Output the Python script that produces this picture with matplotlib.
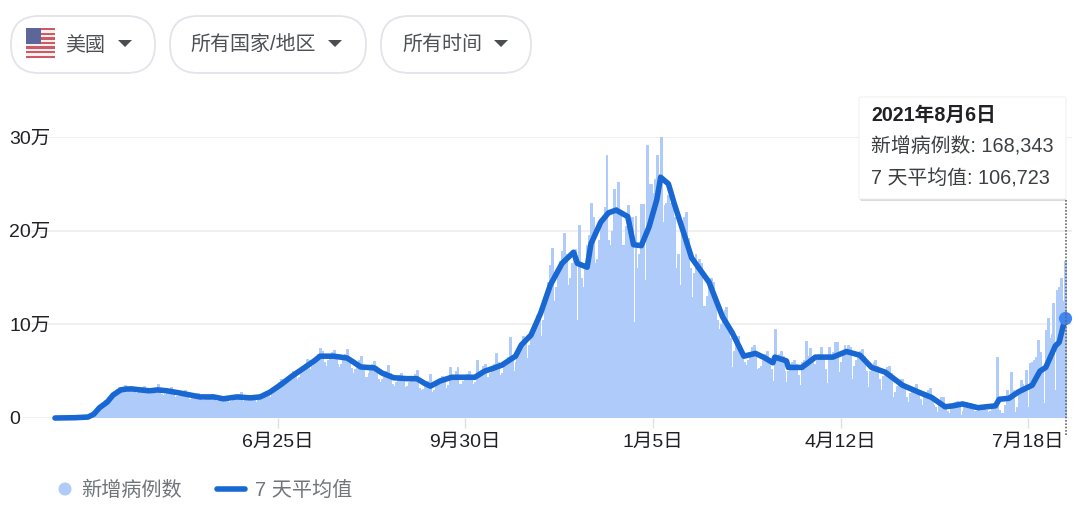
import matplotlib
matplotlib.use('Agg')
import matplotlib.pyplot as plt
from matplotlib.patches import FancyBboxPatch, Rectangle, Polygon, Circle
import numpy as np
import pandas as pd

plt.rcParams['font.family'] = ['Liberation Sans', 'Noto Sans CJK SC', 'DejaVu Sans']

start_date = '2020-03-02'

# new cases per day in thousands, one row per week (Mon..Sun)
daily_cases = [
    0, 0, 0, 0, 0, 0, 0,
    0, 0, 0, 0, 1, 1, 1,
    1, 1, 1, 1, 2, 2, 2,
    6, 8, 10, 13, 16, 19, 19,
    20, 22, 24, 27, 31, 33, 30,
    29, 35, 31, 33, 34, 33, 28,
    27, 29, 31, 33, 34, 30, 27,
    26, 27, 29, 31, 36, 33, 26,
    25, 26, 28, 30, 33, 28, 22,
    23, 24, 26, 28, 30, 26, 20,
    20, 21, 23, 25, 27, 24, 19,
    19, 21, 23, 25, 26, 23, 18,
    18, 20, 21, 23, 24, 21, 17,
    18, 20, 22, 24, 26, 28, 18,
    19, 21, 22, 23, 25, 22, 17,
    20, 22, 24, 26, 29, 28, 22,
    26, 29, 32, 35, 38, 42, 35,
    36, 40, 44, 47, 50, 47, 42,
    44, 50, 54, 58, 63, 62, 52,
    55, 60, 64, 68, 75, 72, 60,
    56, 62, 66, 70, 73, 68, 58,
    54, 58, 63, 68, 74, 64, 53,
    48, 52, 56, 62, 66, 56, 44,
    44, 48, 53, 58, 61, 55, 42,
    38, 42, 46, 50, 57, 48, 36,
    34, 38, 42, 46, 48, 44, 33,
    34, 38, 42, 45, 47, 51, 32,
    30, 31, 34, 37, 40, 47, 28,
    30, 36, 38, 40, 45, 42, 32,
    35, 54, 43, 46, 50, 54, 36,
    36, 40, 44, 47, 50, 46, 36,
    38, 62, 47, 50, 56, 58, 40,
    44, 48, 52, 58, 69, 60, 46,
    48, 55, 60, 65, 86, 66, 50,
    60, 66, 72, 80, 88, 84, 64,
    78, 86, 94, 102, 110, 106, 88,
    105, 118, 130, 145, 163, 181, 125,
    140, 155, 168, 178, 198, 175, 142,
    150, 165, 175, 180, 105, 206, 150,
    140, 165, 185, 195, 230, 215, 165,
    170, 190, 205, 215, 225, 281, 190,
    185, 200, 245, 225, 252, 220, 185,
    185, 205, 227, 210, 215, 102, 216,
    160, 175, 229, 229, 147, 291, 250,
    250, 240, 255, 281, 260, 300, 209,
    227, 230, 238, 230, 227, 215, 160,
    175, 142, 205, 215, 220, 192, 160,
    129, 155, 175, 165, 170, 165, 120,
    120, 130, 142, 150, 145, 125, 105,
    95, 100, 108, 115, 118, 100, 85,
    54, 72, 82, 88, 78, 70, 60,
    57, 62, 70, 76, 78, 70, 52,
    53, 55, 62, 68, 72, 64, 52,
    40, 95, 66, 68, 72, 66, 50,
    38, 50, 58, 60, 62, 58, 46,
    35, 60, 62, 82, 66, 75, 60,
    46, 58, 62, 68, 76, 66, 52,
    37, 76, 66, 70, 81, 81, 49,
    60, 68, 78, 72, 78, 76, 42,
    55, 62, 68, 72, 74, 66, 50,
    33, 50, 56, 60, 62, 55, 42,
    30, 45, 50, 54, 55, 48, 22,
    28, 34, 38, 42, 42, 35, 22,
    17, 27, 31, 33, 36, 30, 20,
    14, 22, 26, 30, 32, 24, 14,
    12, 6, 18, 22, 22, 14, 7,
    5, 14, 16, 17, 18, 13, 3,
    8, 13, 17, 16, 16, 12, 7,
    7, 10, 12, 14, 14, 9, 6,
    8, 11, 12, 13, 65, 9, 5,
    5, 14, 30, 20, 49, 30, 6,
    12, 28, 41, 36, 34, 51, 12,
    59, 60, 62, 65, 83, 70, 50,
    16, 94, 107, 85, 90, 123, 30,
    137, 140, 150, 125, 168,
]

# 7 day average, read at these day numbers
avg_days = [0, 10, 17, 20, 23, 27, 30, 34, 37, 40, 44, 49, 53, 58, 65, 70, 75, 82, 87, 94,
            101, 106, 111, 117, 122, 128, 134, 137, 144, 151, 154, 158, 165, 169, 175, 182,
            187, 191, 194, 199, 205, 210, 217, 222, 225, 231, 235, 238, 241, 246, 251, 256,
            262, 268, 270, 275, 277, 282, 286, 290, 296, 299, 303, 307, 311, 313, 317, 320,
            325, 329, 338, 345, 350, 356, 362, 367, 371, 372, 378, 379, 386, 393, 402, 409,
            416, 422, 429, 438, 447, 453, 460, 464, 469, 477, 486, 488, 493, 498, 505, 509,
            512, 517, 519, 522]
avg_values = [0, 0.3, 1, 4, 11, 17, 24.5, 30, 31, 31, 30, 29, 30, 29, 26.5, 24.5, 22.5, 22.5, 20.5, 22.5,
              21.5, 22.5, 27.5, 36, 44, 52.5, 61, 66, 66, 64, 60, 54.5, 53.5, 48, 43, 42,
              42, 37, 34, 39.5, 43.5, 43.5, 43.5, 50, 52, 56.5, 62, 66, 78, 88.5, 112, 142,
              165, 177, 165, 161, 186, 209, 219, 222, 215, 185, 184, 204, 233, 257, 250, 229,
              197, 171, 145, 108, 91, 66, 69, 64, 59, 65, 61, 54, 54, 65, 65, 71,
              67, 54, 49, 35, 27, 22, 12, 13, 15, 11, 13, 20, 21, 28, 35, 50,
              54, 77, 81, 106.7]

y_ticks = [0, 100, 200, 300]
y_labels = ['0', '10万', '20万', '30万']
tick_dates = ['2020-06-25', '2020-09-30', '2021-01-05', '2021-04-12', '2021-07-18']
x_labels = ['6月25日', '9月30日', '1月5日', '4月12日', '7月18日']

W, H = 1080, 509
BAR = '#aecbfa'
LINE = '#1967d2'
TXT = '#4d5156'

fig = plt.figure(figsize=(W / 100, H / 100), dpi=100)
ax = fig.add_axes([23 / W, 1 - 418 / H, (1072 - 23) / W, (418 - 137) / H])

days = np.arange(len(daily_cases))
ax.bar(days, daily_cases, width=1.0, color=BAR, linewidth=0.7, edgecolor=BAR, zorder=2)
ax.plot(avg_days, avg_values, color=LINE, lw=4, zorder=3, clip_on=False,
        solid_joinstyle='round', solid_capstyle='round')
ax.plot(avg_days[-1], avg_values[-1], 'o', color='#4285f4', ms=9.5, mew=0, zorder=4, clip_on=False)

ax.set_xlim((23 - 55) / 1.935, (1072 - 55) / 1.935)
ax.set_ylim(0, 300)
for s in ax.spines.values():
    s.set_visible(False)
ax.set_yticks(y_ticks)
ax.set_yticklabels(y_labels, fontsize=14, color='#202124', ha='left')
ax.tick_params(axis='y', length=0, pad=9.8)
ax.grid(axis='y', color='#ececec', lw=1.2, zorder=0)
ax.set_axisbelow(True)
tick_x = [(pd.Timestamp(d) - pd.Timestamp(start_date)).days for d in tick_dates]
ax.set_xticks(tick_x)
ax.set_xticklabels(x_labels, fontsize=14, color='#202124')
ax.tick_params(axis='x', length=7, width=1, color='#e0e0e0', pad=4.5)

# everything around the chart, in pixel coordinates
ui = fig.add_axes([0, 0, 1, 1], facecolor='none')
ui.set_xlim(0, W)
ui.set_ylim(H, 0)
ui.axis('off')

pills = [(11, 155, '美國', 65, 125), (170, 366, '所有国家/地区', 190, 335), (381, 531, '所有时间', 402, 501)]
for x0, x1, label, tx, arrow in pills:
    ui.add_patch(FancyBboxPatch((x0, 16), x1 - x0, 57, boxstyle='round,pad=0,rounding_size=28',
                                fc='white', ec='#e3e4e9', lw=1.3))
    ui.text(tx, 45, label, fontsize=14.4, color=TXT, va='center', ha='left')
    ui.add_patch(Polygon([(arrow - 7, 40), (arrow + 7, 40), (arrow, 47)], fc='#4a4d52', ec='none'))

# flag
ui.add_patch(Rectangle((26, 28), 29, 30, fc='#f4f0f0', ec='none'))
for i in range(0, 13, 2):
    ui.add_patch(Rectangle((26, 28 + i * 30 / 13), 29, 30 / 13, fc='#cf5a66', ec='none'))
ui.add_patch(Rectangle((26, 28), 15, 15.5, fc='#5c6699', ec='none'))

# tooltip
ui.plot([1065.5, 1065.5], [200, 435], color='#666666', lw=1.2, ls=(0, (1, 1)))
ui.add_patch(FancyBboxPatch((860, 98), 206, 103, boxstyle='round,pad=0,rounding_size=2',
                            fc='#b0b0b0', ec='none', alpha=0.45))
ui.add_patch(FancyBboxPatch((859, 97), 207, 102, boxstyle='round,pad=0,rounding_size=2',
                            fc='white', ec='#eeeeee', lw=0.6))
ui.text(871, 115, '2021年8月6日', fontsize=14.2, fontweight='bold', color='#202124', va='center')
ui.text(871, 147, '新增病例数: 168,343', fontsize=14.3, color='#3c4043', va='center')
ui.text(871, 179, '7 天平均值: 106,723', fontsize=14.3, color='#3c4043', va='center')

# legend
ui.add_patch(Circle((65, 489), 6.5, fc=BAR, ec='none'))
ui.text(81, 490, '新增病例数', fontsize=14.5, color='#70757a', va='center')
ui.plot([217, 245], [489, 489], color=LINE, lw=4, solid_capstyle='round')
ui.text(255, 490, '7 天平均值', fontsize=14.5, color='#70757a', va='center')

plt.savefig('out.png', dpi=100)
